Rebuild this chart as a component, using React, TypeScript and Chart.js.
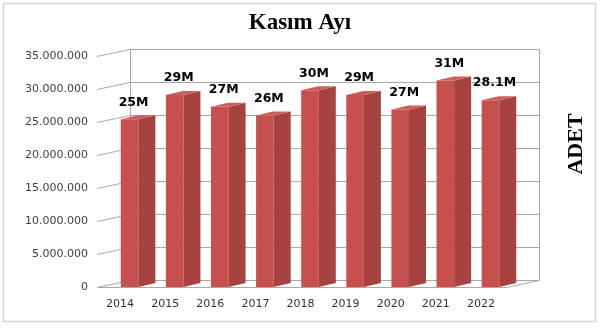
import React, { useEffect, useRef } from "react";
import { Chart, registerables } from "chart.js";

Chart.register(...registerables);

const years = ["2014", "2015", "2016", "2017", "2018", "2019", "2020", "2021", "2022"];
const counts = [25400000, 29100000, 27300000, 26000000, 29800000, 29100000, 26900000, 31300000, 28300000];
const countLabels = ["25M", "29M", "27M", "26M", "30M", "29M", "27M", "31M", "28.1M"];
const yMax = 35000000;
const yStep = 5000000;
const chartTitle = "Kasım Ayı";
const axisTitle = "ADET";

const fmt = (v: number) => String(Math.round(v)).replace(/\B(?=(\d{3})+(?!\d))/g, ".");

const depth = { dx: 33, dy: -7 };
const barDepth = { dx: 17, dy: -4 };

const threeD = {
  id: "threeD",
  beforeDraw(chart: any) {
    const ctx = chart.ctx;
    ctx.save();
    ctx.fillStyle = "#ffffff";
    ctx.fillRect(0, 0, chart.width, chart.height);
    ctx.strokeStyle = "#d4d4d4";
    ctx.lineWidth = 1.5;
    ctx.strokeRect(3.5, 3.5, 592, 318);
    ctx.fillStyle = "#000000";
    ctx.font = "bold 23px 'Liberation Serif'";
    ctx.textAlign = "center";
    ctx.textBaseline = "middle";
    ctx.fillText(chartTitle, chart.width / 2, 23);
    ctx.restore();
  },
  beforeDatasetsDraw(chart: any) {
    const ctx = chart.ctx;
    const ca = chart.chartArea;
    const y = chart.scales.y;
    const fl = ca.left - 10;
    const fr = ca.right - 7;
    const bl = fl + depth.dx;
    const br = fr + depth.dx;
    ctx.save();
    ctx.strokeStyle = "#a8a8a8";
    ctx.lineWidth = 1;
    const line = (x1: number, y1: number, x2: number, y2: number) => {
      ctx.beginPath();
      ctx.moveTo(x1, y1);
      ctx.lineTo(x2, y2);
      ctx.stroke();
    };
    y.ticks.forEach((t: any) => {
      const yf = Math.round(y.getPixelForValue(t.value)) + 0.5;
      line(bl, yf + depth.dy, br, yf + depth.dy);
      line(fl, yf, bl, yf + depth.dy);
    });
    const yTop = Math.round(y.getPixelForValue(yMax)) + 0.5;
    const y0 = Math.round(y.getPixelForValue(0)) + 0.5;
    line(bl + 0.5, yTop + depth.dy, bl + 0.5, y0 + depth.dy);
    line(br + 0.5, yTop + depth.dy, br + 0.5, y0 + depth.dy);
    line(fl, y0, fr, y0);
    line(fr, y0, br, y0 + depth.dy);
    ctx.restore();
  },
  afterDatasetsDraw(chart: any) {
    const ctx = chart.ctx;
    const meta = chart.getDatasetMeta(0);
    ctx.save();
    meta.data.forEach((bar: any, i: number) => {
      const { x, y, base, width } = bar.getProps(["x", "y", "base", "width"], true);
      const xl = x - width / 2;
      const xr = x + width / 2;
      ctx.fillStyle = "#a64341";
      ctx.beginPath();
      ctx.moveTo(xr, y);
      ctx.lineTo(xr + barDepth.dx, y + barDepth.dy);
      ctx.lineTo(xr + barDepth.dx, base + barDepth.dy);
      ctx.lineTo(xr, base);
      ctx.closePath();
      ctx.fill();
      ctx.fillStyle = "#cf5e5b";
      ctx.beginPath();
      ctx.moveTo(xl, y);
      ctx.lineTo(xr, y);
      ctx.lineTo(xr + barDepth.dx, y + barDepth.dy);
      ctx.lineTo(xl + barDepth.dx, y + barDepth.dy);
      ctx.closePath();
      ctx.fill();
      ctx.fillStyle = "#000000";
      ctx.font = "bold 12.5px 'DejaVu Sans'";
      ctx.textAlign = "center";
      ctx.textBaseline = "middle";
      ctx.fillText(countLabels[i], x + 4, y - 17);
    });
    ctx.fillStyle = "#000000";
    ctx.font = "bold 22px 'Liberation Serif'";
    ctx.textAlign = "center";
    ctx.textBaseline = "middle";
    ctx.translate(576, 144);
    ctx.rotate(-Math.PI / 2);
    ctx.fillText(axisTitle, 0, 0);
    ctx.restore();
  },
};

export default function App() {
  const ref = useRef<HTMLCanvasElement | null>(null);
  useEffect(() => {
    document.body.style.margin = "0";
    const canvas = ref.current!;
    const chart = new Chart(canvas, {
      type: "bar",
      data: {
        labels: years,
        datasets: [
          {
            data: counts,
            backgroundColor: "#c74f4d",
            borderWidth: 0,
            barPercentage: 0.39,
            categoryPercentage: 1,
          },
        ],
      },
      options: {
        responsive: false,
        animation: false,
        devicePixelRatio: 1,
        layout: { padding: { left: 0, right: 87, top: 56, bottom: 0 } },
        plugins: {
          legend: { display: false },
          tooltip: { enabled: false },
          title: { display: false },
        },
        scales: {
          x: {
            grid: { display: false, drawTicks: false },
            border: { display: false },
            ticks: {
              color: "#333333",
              font: { family: "'DejaVu Sans'", size: 11 },
              labelOffset: -9.5,
              padding: 11,
              maxRotation: 0,
              autoSkip: false,
            },
            afterFit: (s: any) => {
              s.height = 41;
            },
          },
          y: {
            min: 0,
            max: yMax,
            grid: { display: false, drawTicks: false },
            border: { display: false },
            ticks: {
              stepSize: yStep,
              color: "#404040",
              font: { family: "'DejaVu Sans'", size: 11 },
              padding: 19,
              callback: (v: any) => fmt(Number(v)),
            },
            afterFit: (s: any) => {
              s.width = 107;
            },
          },
        },
      },
      plugins: [threeD],
    });
    return () => chart.destroy();
  }, []);
  return (
    <div style={{ width: 600, height: 328 }}>
      <canvas ref={ref} width={600} height={328} style={{ display: "block" }} />
    </div>
  );
}
